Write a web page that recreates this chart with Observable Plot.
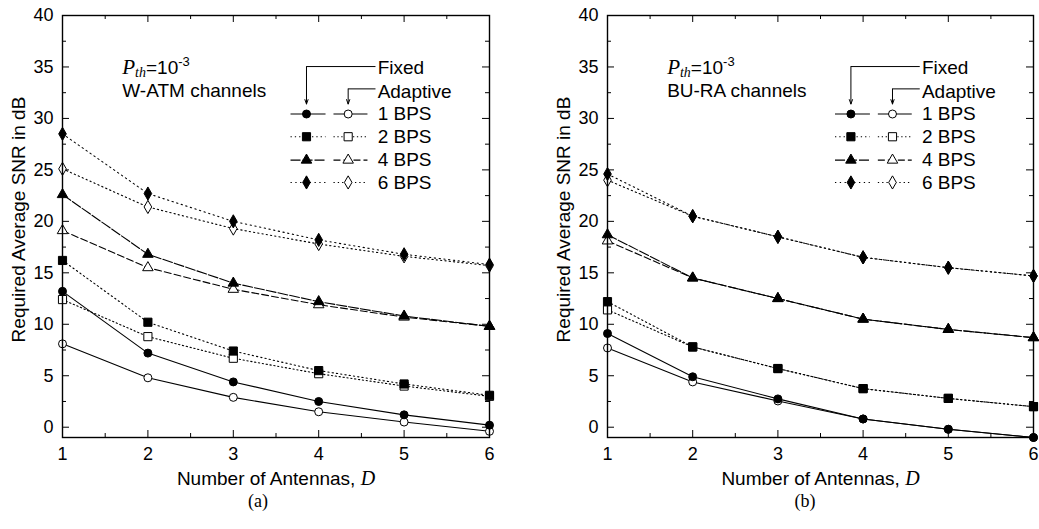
<!DOCTYPE html>
<html>
<head>
<meta charset="utf-8">
<script src="https://cdn.jsdelivr.net/npm/d3@7"></script>
<script src="https://cdn.jsdelivr.net/npm/@observablehq/plot@0.6"></script>
<style>
  html, body { margin: 0; padding: 0; background: #fff; }
  #wrap { position: relative; width: 1039px; height: 529px; overflow: hidden; background: #fff; }
  .panel { position: absolute; top: 0; }
  .cap { position: absolute; top: 491px; font-family: "Liberation Serif", "Times New Roman", serif; font-size: 18px; color: #000; transform: translateX(-50%); white-space: nowrap; }
</style>
</head>
<body>
<div id="wrap"></div>
<script>
// ---------- data ----------
const antennas = [1, 2, 3, 4, 5, 6];
const bpsLabels = ["1 BPS", "2 BPS", "4 BPS", "6 BPS"];
const modeLabels = ["Fixed", "Adaptive"];
const yTicksMajor = [0, 5, 10, 15, 20, 25, 30, 35, 40];
const yTicksMinor = [2.5, 7.5, 12.5, 17.5, 22.5, 27.5, 32.5, 37.5];
const xTicksMajor = [1, 2, 3, 4, 5, 6];
const xTicksMinor = [1.5, 2.5, 3.5, 4.5, 5.5];
const xLabel = "Number of Antennas, D";
const yLabel = "Required Average SNR in dB";
const pthLabel = "Pth=10-3";
const channelLabels = ["W-ATM channels", "BU-RA channels"];
const captions = ["(a)", "(b)"];

// (a) W-ATM channels
const watmFixed1 = [13.2, 7.2, 4.4, 2.5, 1.2, 0.2];
const watmAdapt1 = [8.1, 4.8, 2.9, 1.5, 0.5, -0.4];
const watmFixed2 = [16.2, 10.2, 7.4, 5.5, 4.2, 3.1];
const watmAdapt2 = [12.4, 8.8, 6.7, 5.2, 4.0, 3.0];
const watmFixed4 = [22.6, 16.8, 14.0, 12.2, 10.8, 9.8];
const watmAdapt4 = [19.1, 15.5, 13.4, 11.9, 10.7, 9.8];
const watmFixed6 = [28.5, 22.7, 20.0, 18.2, 16.8, 15.8];
const watmAdapt6 = [25.1, 21.4, 19.3, 17.8, 16.6, 15.7];

// (b) BU-RA channels
const buraFixed1 = [9.1, 4.9, 2.75, 0.8, -0.2, -1.0];
const buraAdapt1 = [7.7, 4.4, 2.55, 0.8, -0.2, -1.0];
const buraFixed2 = [12.2, 7.8, 5.7, 3.75, 2.8, 2.0];
const buraAdapt2 = [11.4, 7.8, 5.7, 3.75, 2.8, 2.0];
const buraFixed4 = [18.7, 14.5, 12.5, 10.5, 9.5, 8.7];
const buraAdapt4 = [18.1, 14.5, 12.5, 10.5, 9.5, 8.7];
const buraFixed6 = [24.6, 20.5, 18.5, 16.5, 15.5, 14.7];
const buraAdapt6 = [24.0, 20.5, 18.5, 16.5, 15.5, 14.7];

// ---------- styles / layout ----------
const sans = '"Liberation Sans", Arial, Helvetica, sans-serif';
const serif = '"Liberation Serif", "Times New Roman", serif';
const seriesStyle = {
  "1 BPS": {symbol: "circle",   r: 4.0, Fixed: undefined, Adaptive: undefined},
  "2 BPS": {symbol: "square",   r: 4.6, Fixed: "1.3,3",  Adaptive: "1.3,2.6"},
  "4 BPS": {symbol: "triangle", r: 3.9, Fixed: "10,2",   Adaptive: "7,3"},
  "6 BPS": {symbol: "diamond",  r: 4.0, Fixed: "1.3,3.5", Adaptive: "1.3,3"}
};
const legendLayout = {
  rowY: [30.43, 28.22, 25.95, 23.78],
  sample: {Fixed: {x1: 3.67, xs: 3.857, x2: 4.08}, Adaptive: {x1: 4.173, xs: 4.345, x2: 4.571}},
  textX: 4.69,
  fixedY: 34.9, adaptiveY: 32.6,
  arrowFixedY: 35.04, arrowAdaptY: 32.87, arrowEndX: 4.665, arrowTipY: 31.4,
  annotX: 1.70, pthY: 34.9, chanY: 32.63
};

function buildSeries(vals) {
  const out = [];
  bpsLabels.forEach((b, i) => {
    out.push({bps: b, mode: "Fixed", values: vals[2 * i]});
    out.push({bps: b, mode: "Adaptive", values: vals[2 * i + 1]});
  });
  return out;
}

function makePanel({series, channel, width, marginLeft, marginRight}) {
  const height = 490, marginTop = 15, marginBottom = 53;
  const fw = width - marginLeft - marginRight;
  const fh = height - marginTop - marginBottom;
  const rows = [];
  for (const s of series) s.values.forEach((v, i) => rows.push({x: antennas[i], y: v, bps: s.bps, mode: s.mode}));
  const order = [...series].sort((a, b) => (a.mode === "Fixed") - (b.mode === "Fixed"));
  const L = legendLayout;
  const marks = [];

  // inward ticks on all sides
  marks.push(Plot.tickY(yTicksMajor, {y: d => d, insetRight: fw - 7, strokeWidth: 1}));
  marks.push(Plot.tickY(yTicksMajor, {y: d => d, insetLeft: fw - 7, strokeWidth: 1}));
  marks.push(Plot.tickY(yTicksMinor, {y: d => d, insetRight: fw - 4, strokeWidth: 1}));
  marks.push(Plot.tickY(yTicksMinor, {y: d => d, insetLeft: fw - 4, strokeWidth: 1}));
  marks.push(Plot.tickX(xTicksMajor, {x: d => d, insetTop: fh - 7, strokeWidth: 1}));
  marks.push(Plot.tickX(xTicksMajor, {x: d => d, insetBottom: fh - 7, strokeWidth: 1}));
  marks.push(Plot.tickX(xTicksMinor, {x: d => d, insetTop: fh - 4, strokeWidth: 1}));
  marks.push(Plot.tickX(xTicksMinor, {x: d => d, insetBottom: fh - 4, strokeWidth: 1}));

  // series lines
  for (const s of order) {
    const st = seriesStyle[s.bps];
    const data = rows.filter(r => r.bps === s.bps && r.mode === s.mode);
    marks.push(Plot.line(data, {x: "x", y: "y", stroke: "black", strokeWidth: 1.1, strokeDasharray: st[s.mode]}));
  }
  for (const s of order) {
    const st = seriesStyle[s.bps];
    const data = rows.filter(r => r.bps === s.bps && r.mode === s.mode);
    marks.push(Plot.dot(data, {x: "x", y: "y", symbol: st.symbol, r: st.r, fill: s.mode === "Fixed" ? "black" : "white", stroke: "black", strokeWidth: 1}));
  }

  // legend
  bpsLabels.forEach((b, i) => {
    const st = seriesStyle[b];
    const y = L.rowY[i];
    for (const m of modeLabels) {
      const sm = L.sample[m];
      marks.push(Plot.link([{x1: sm.x1, x2: sm.x2, y}], {x1: "x1", x2: "x2", y1: "y", y2: "y", stroke: "black", strokeWidth: 1.1, strokeDasharray: st[m]}));
      marks.push(Plot.dot([{x: sm.xs, y}], {x: "x", y: "y", symbol: st.symbol, r: st.r, fill: m === "Fixed" ? "black" : "white", stroke: "black", strokeWidth: 1}));
    }
    marks.push(Plot.text([b], {x: L.textX, y, text: d => d, textAnchor: "start", fontSize: 19}));
  });
  marks.push(Plot.text([modeLabels[0]], {x: L.textX, y: L.fixedY, text: d => d, textAnchor: "start", fontSize: 19}));
  marks.push(Plot.text([modeLabels[1]], {x: L.textX, y: L.adaptiveY, text: d => d, textAnchor: "start", fontSize: 19}));
  marks.push(Plot.link([{x1: L.sample.Fixed.xs, x2: L.arrowEndX, y: L.arrowFixedY}], {x1: "x1", x2: "x2", y1: "y", y2: "y", stroke: "black", strokeWidth: 1}));
  marks.push(Plot.link([{x1: L.sample.Adaptive.xs, x2: L.arrowEndX, y: L.arrowAdaptY}], {x1: "x1", x2: "x2", y1: "y", y2: "y", stroke: "black", strokeWidth: 1}));
  marks.push(Plot.arrow([{x: L.sample.Fixed.xs, y1: L.arrowFixedY, y2: L.arrowTipY}], {x1: "x", x2: "x", y1: "y1", y2: "y2", stroke: "black", strokeWidth: 1, headLength: 7, headAngle: 40}));
  marks.push(Plot.arrow([{x: L.sample.Adaptive.xs, y1: L.arrowAdaptY, y2: L.arrowTipY}], {x1: "x", x2: "x", y1: "y1", y2: "y2", stroke: "black", strokeWidth: 1, headLength: 7, headAngle: 40}));

  // annotations
  marks.push(Plot.text([pthLabel], {x: L.annotX, y: L.pthY, text: d => d, textAnchor: "start", fontSize: 19}));
  marks.push(Plot.text([channel], {x: L.annotX, y: L.chanY, text: d => d, textAnchor: "start", fontSize: 19}));

  // axis titles
  marks.push(Plot.text([xLabel], {frameAnchor: "bottom", dy: 41, text: d => d, fontSize: 19, textAnchor: "middle", lineAnchor: "middle"}));
  marks.push(Plot.text([yLabel], {frameAnchor: "left", dx: -44, dy: -7, rotate: -90, text: d => d, fontSize: 19, textAnchor: "middle", lineAnchor: "middle"}));

  marks.push(Plot.frame({stroke: "black", strokeWidth: 1.4}));

  const svg = Plot.plot({
    width, height, marginLeft, marginRight, marginTop, marginBottom,
    style: {fontFamily: sans, fontSize: "18px", color: "black", background: "white", overflow: "visible"},
    x: {domain: [1, 6], ticks: xTicksMajor, tickSize: 0, tickPadding: 10, tickFormat: d => String(d), label: null},
    y: {domain: [-1, 40], ticks: yTicksMajor, tickSize: 0, tickPadding: 9, tickFormat: d => String(d), label: null},
    marks
  });

  // rich text: italic serif symbols, sub/superscripts
  d3.select(svg).selectAll("text").each(function () {
    const s = this.textContent;
    const t = d3.select(this);
    if (s === xLabel) {
      t.text(null);
      t.append("tspan").text(xLabel.slice(0, -1));
      t.append("tspan").attr("font-family", serif).attr("font-style", "italic").attr("font-size", 20).text(xLabel.slice(-1));
    } else if (s === pthLabel) {
      t.text(null);
      t.append("tspan").attr("font-family", serif).attr("font-style", "italic").attr("font-size", 21).text("P");
      t.append("tspan").attr("font-family", serif).attr("font-style", "italic").attr("font-size", 14).attr("dy", 3).text("th");
      t.append("tspan").attr("dy", -3).text("=10");
      t.append("tspan").attr("font-size", 13).attr("dy", -8).text("-3");
    }
  });
  return svg;
}

const wrap = document.getElementById("wrap");
const panels = [
  {series: buildSeries([watmFixed1, watmAdapt1, watmFixed2, watmAdapt2, watmFixed4, watmAdapt4, watmFixed6, watmAdapt6]),
   channel: channelLabels[0], width: 520, marginLeft: 62, marginRight: 31, left: 0, capX: 258},
  {series: buildSeries([buraFixed1, buraAdapt1, buraFixed2, buraAdapt2, buraFixed4, buraAdapt4, buraFixed6, buraAdapt6]),
   channel: channelLabels[1], width: 519, marginLeft: 87, marginRight: 6, left: 520, capX: 805}
];
panels.forEach((p, i) => {
  const div = document.createElement("div");
  div.className = "panel";
  div.style.left = p.left + "px";
  div.appendChild(makePanel(p));
  wrap.appendChild(div);
  const cap = document.createElement("div");
  cap.className = "cap";
  cap.style.left = p.capX + "px";
  cap.textContent = captions[i];
  wrap.appendChild(cap);
});
</script>
</body>
</html>
